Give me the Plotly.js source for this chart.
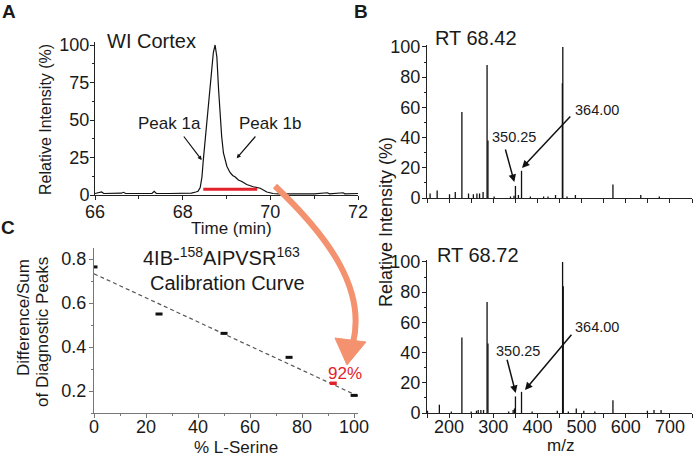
<!DOCTYPE html>
<html>
<head>
<meta charset="utf-8">
<script src="https://cdn.plot.ly/plotly-3.0.1.min.js"></script>
<style>html,body{margin:0;padding:0;background:#fff}#chart{width:693px;height:458px}</style>
</head>
<body>
<div id="chart"></div>
<script>
// ---------- DATA ----------
// Panel A: chromatogram (WI Cortex)
const chromTime = [66.0, 66.1, 66.15, 66.2, 66.4, 66.6, 66.65, 66.7, 67.0, 67.3, 67.35, 67.4, 67.7, 68.0, 68.2, 68.3, 68.35, 68.4, 68.44, 68.47, 68.55, 68.63, 68.70, 68.74, 68.78, 68.82, 68.85, 68.89, 68.93, 69.01, 69.08, 69.14, 69.20, 69.27, 69.35, 69.46, 69.61, 69.77, 69.92, 70.06, 70.2, 70.4, 70.6, 70.65, 71.0, 71.3, 71.35, 71.66, 71.7, 72.0];
const chromIntensity = [1, 1.5, 2, 1, 1, 1.2, 1.8, 1, 1, 1, 2.5, 1, 1, 1, 1.2, 2, 2.5, 5, 12, 23, 48, 75, 95, 100, 92, 70, 55, 39, 28, 19, 15, 13, 12, 10, 9, 7, 5.5, 4.5, 2, 1, 0.8, 0.8, 1.2, 0.8, 0.8, 1.5, 0.8, 1.5, 0.8, 1];
const peakRangeTime = [68.47, 69.70];
const peakRangeLevel = [3.8, 3.8];

// Panel B: MS/MS spectra
const spec1Mz  = [157, 173, 201, 214, 229, 244, 255, 263, 269, 277, 286, 288, 302, 339, 347, 350.25, 357, 364, 384, 414, 424, 441, 456.5, 457.5, 467, 486, 571, 634, 676];
const spec1Int = [3, 5, 2.5, 4, 57, 3, 2.5, 3, 3, 4, 88, 38, 1, 1, 1.5, 8, 2, 18, 1, 1, 1, 2, 76, 100, 1, 2, 9, 2, 1];
const spec2Mz  = [151, 178, 205, 229, 250, 262, 266, 272, 278, 286, 288, 335, 345, 348, 350.25, 364, 388, 445, 457, 458.5, 470, 488, 505, 530, 571, 649, 664, 680];
const spec2Int = [1.5, 5.5, 1, 50, 1, 1.5, 2, 2, 2, 73.5, 46, 1, 2, 3, 11, 14, 1, 1.5, 100, 84, 1, 3, 1.5, 1, 8.5, 1.5, 2, 2];

// Panel C: calibration curve
const calSerine = [0, 25, 50, 75, 100];
const calRatio  = [0.764, 0.55, 0.462, 0.353, 0.18];
const sampleSerine = [92];
const sampleRatio  = [0.235];
const fitSerine = [0, 101.5];
const fitRatio  = [0.733, 0.177];

// ---------- HELPERS ----------
const W = 693, H = 458;
const px = x => x / W;
const py = y => 1 - y / H;
const FONT = 'Liberation Sans, Arial, sans-serif';

function sticks(mz, inten) {
  const x = [], y = [];
  mz.forEach((m, i) => { x.push(m, m, null); y.push(0, inten[i], null); });
  return {x, y};
}
const s1 = sticks(spec1Mz, spec1Int);
const s2 = sticks(spec2Mz, spec2Int);

const traces = [
  {x: chromTime, y: chromIntensity, xaxis: 'x', yaxis: 'y', mode: 'lines',
   line: {color: '#111', width: 1.2}, hoverinfo: 'skip'},
  {x: peakRangeTime, y: peakRangeLevel, xaxis: 'x', yaxis: 'y', mode: 'lines',
   line: {color: '#e3212b', width: 3}},
  {x: s1.x, y: s1.y, xaxis: 'x2', yaxis: 'y2', mode: 'lines',
   line: {color: '#111', width: 1.3}},
  {x: s2.x, y: s2.y, xaxis: 'x3', yaxis: 'y3', mode: 'lines',
   line: {color: '#111', width: 1.3}},
  {x: fitSerine, y: fitRatio, xaxis: 'x4', yaxis: 'y4', mode: 'lines',
   line: {color: '#555', width: 1.2, dash: '4px,3px'}},
  {x: calSerine, y: calRatio, xaxis: 'x4', yaxis: 'y4', mode: 'markers',
   marker: {symbol: 'line-ew', size: 5, line: {color: '#111', width: 3}}},
  {x: sampleSerine, y: sampleRatio, xaxis: 'x4', yaxis: 'y4', mode: 'markers',
   marker: {symbol: 'line-ew', size: 5, line: {color: '#e3212b', width: 3.5}}}
];

const baseAxis = {
  showline: true, linecolor: '#222', linewidth: 1, showgrid: false, zeroline: false,
  ticks: 'outside', ticklen: 4, tickwidth: 1, tickcolor: '#222',
  tickfont: {family: FONT, size: 18, color: '#1a1a1a'}, fixedrange: true
};
const ax = o => Object.assign({}, baseAxis, o);

function txt(x, y, text, size, extra) {
  return Object.assign({xref: 'paper', yref: 'paper', x: px(x), y: py(y), text: text,
    showarrow: false, xanchor: 'center', yanchor: 'middle',
    font: {family: FONT, size: size, color: '#1a1a1a'}}, extra || {});
}
function arrow(hx, hy, tx, ty, size, width) {
  return {xref: 'paper', yref: 'paper', x: px(hx), y: py(hy), axref: 'pixel', ayref: 'pixel',
    ax: tx - hx, ay: ty - hy, text: '', showarrow: true, arrowhead: 2,
    arrowsize: size, arrowwidth: width, arrowcolor: '#111', standoff: 0, startstandoff: 0};
}

const annotations = [
  // panel letters
  txt(9, 11, '<b>A</b>', 19),
  txt(361, 11, '<b>B</b>', 19),
  txt(8, 227, '<b>C</b>', 19),
  // Panel A
  txt(105, 41, 'WI Cortex', 20, {xanchor: 'left'}),
  txt(169, 124, 'Peak 1a', 17),
  txt(270, 124, 'Peak 1b', 17),
  arrow(201.7, 160, 182.7, 135, 0.7, 1.2),
  arrow(236.7, 158.3, 256.7, 135, 0.7, 1.2),
  txt(46, 120, 'Relative Intensity (%)', 16, {textangle: -90}),
  txt(231, 228, 'Time (min)', 17),
  // Panel B
  txt(433, 38, 'RT 68.42', 20, {xanchor: 'left'}),
  txt(435, 255, 'RT 68.72', 20, {xanchor: 'left'}),
  txt(514, 137, '350.25', 14.5),
  txt(597, 110, '364.00', 14.5),
  txt(518, 351, '350.25', 14.5),
  txt(597, 327, '364.00', 14.5),
  arrow(514.3, 182, 505, 148, 1, 1.5),
  arrow(522, 168, 571.7, 115, 1, 1.5),
  arrow(515.7, 393, 506.7, 358.3, 1, 1.5),
  arrow(525, 390, 572.7, 333.3, 1, 1.5),
  txt(386, 222, 'Relative Intensity (%)', 18, {textangle: -90}),
  txt(560, 445, 'm/z', 17),
  // Panel C
  txt(222, 256, '4IB-<sup>158</sup>AIPVSR<sup>163</sup>', 20),
  txt(227, 283, 'Calibration Curve', 20),
  txt(345, 373, '92%', 17, {font: {family: FONT, size: 17, color: '#e3212b'}}),
  txt(23, 318, 'Difference/Sum', 17, {textangle: -90}),
  txt(42, 332, 'of Diagnostic Peaks', 17, {textangle: -90}),
  txt(236, 447, '% L-Serine', 17)
];

// salmon curved arrow (decoration)
const P = (x, y) => px(x).toFixed(4) + ',' + py(y).toFixed(4);
const shapes = [
  {type: 'path', xref: 'paper', yref: 'paper', layer: 'above',
   path: 'M ' + P(275, 186) + ' C ' + P(330, 238) + ' ' + P(366, 290) + ' ' + P(353, 343),
   line: {color: '#f4926f', width: 6}},
  {type: 'path', xref: 'paper', yref: 'paper', layer: 'above',
   path: 'M ' + P(335, 338) + ' L ' + P(366, 342) + ' L ' + P(347, 365) + ' Z',
   fillcolor: '#f4926f', line: {color: '#f4926f', width: 1}}
];

const layout = {
  width: W, height: H, margin: {l: 0, r: 0, t: 0, b: 0},
  paper_bgcolor: '#fff', plot_bgcolor: 'rgba(0,0,0,0)', showlegend: false,
  font: {family: FONT},
  xaxis: ax({domain: [px(95), px(358)], range: [66, 72], anchor: 'y', tickvals: [66, 68, 70, 72],
             ticklabelstandoff: -4,
             minor: {dtick: 1, ticks: 'outside', ticklen: 3, tickcolor: '#222'}}),
  yaxis: ax({domain: [py(195), py(42)], range: [0, 102], anchor: 'x', tickvals: [0, 25, 50, 75, 100],
             ticklabelstandoff: -3,
             minor: {dtick: 12.5, ticks: 'outside', ticklen: 2, tickcolor: '#222'}}),
  xaxis2: ax({domain: [px(427), px(692)], range: [150, 750], anchor: 'y2', dtick: 100, tick0: 0,
              showticklabels: false, minor: {dtick: 50, ticks: 'outside', ticklen: 4, tickcolor: '#222'}}),
  yaxis2: ax({domain: [py(198), py(45)], range: [0, 101.3], anchor: 'x2', dtick: 20,
              ticklabelstandoff: -2,
              minor: {dtick: 10, ticks: 'outside', ticklen: 2, tickcolor: '#222'}}),
  xaxis3: ax({domain: [px(427), px(692)], range: [150, 750], anchor: 'y3', dtick: 100, tick0: 0,
              ticklabelstandoff: -7,
              minor: {dtick: 50, ticks: 'outside', ticklen: 4, tickcolor: '#222'}}),
  yaxis3: ax({domain: [py(413), py(260)], range: [0, 101.3], anchor: 'x3', dtick: 20,
              ticklabelstandoff: -2,
              minor: {dtick: 10, ticks: 'outside', ticklen: 2, tickcolor: '#222'}}),
  xaxis4: ax({domain: [px(94), px(358)], range: [0, 101.5], anchor: 'y4', dtick: 20,
              linecolor: '#777', tickcolor: '#777', ticklabelstandoff: -7,
              minor: {dtick: 10, ticks: 'outside', ticklen: 2, tickcolor: '#777'}}),
  yaxis4: ax({domain: [py(413), py(248)], range: [0.1, 0.85], anchor: 'x4', tickvals: [0.2, 0.4, 0.6, 0.8],
              linecolor: '#777', tickcolor: '#777', ticklabelstandoff: -1,
              minor: {dtick: 0.1, ticks: 'outside', ticklen: 2, tickcolor: '#777'}}),
  annotations: annotations,
  shapes: shapes
};

Plotly.newPlot('chart', traces, layout, {staticPlot: true, displayModeBar: false});
</script>
</body>
</html>
